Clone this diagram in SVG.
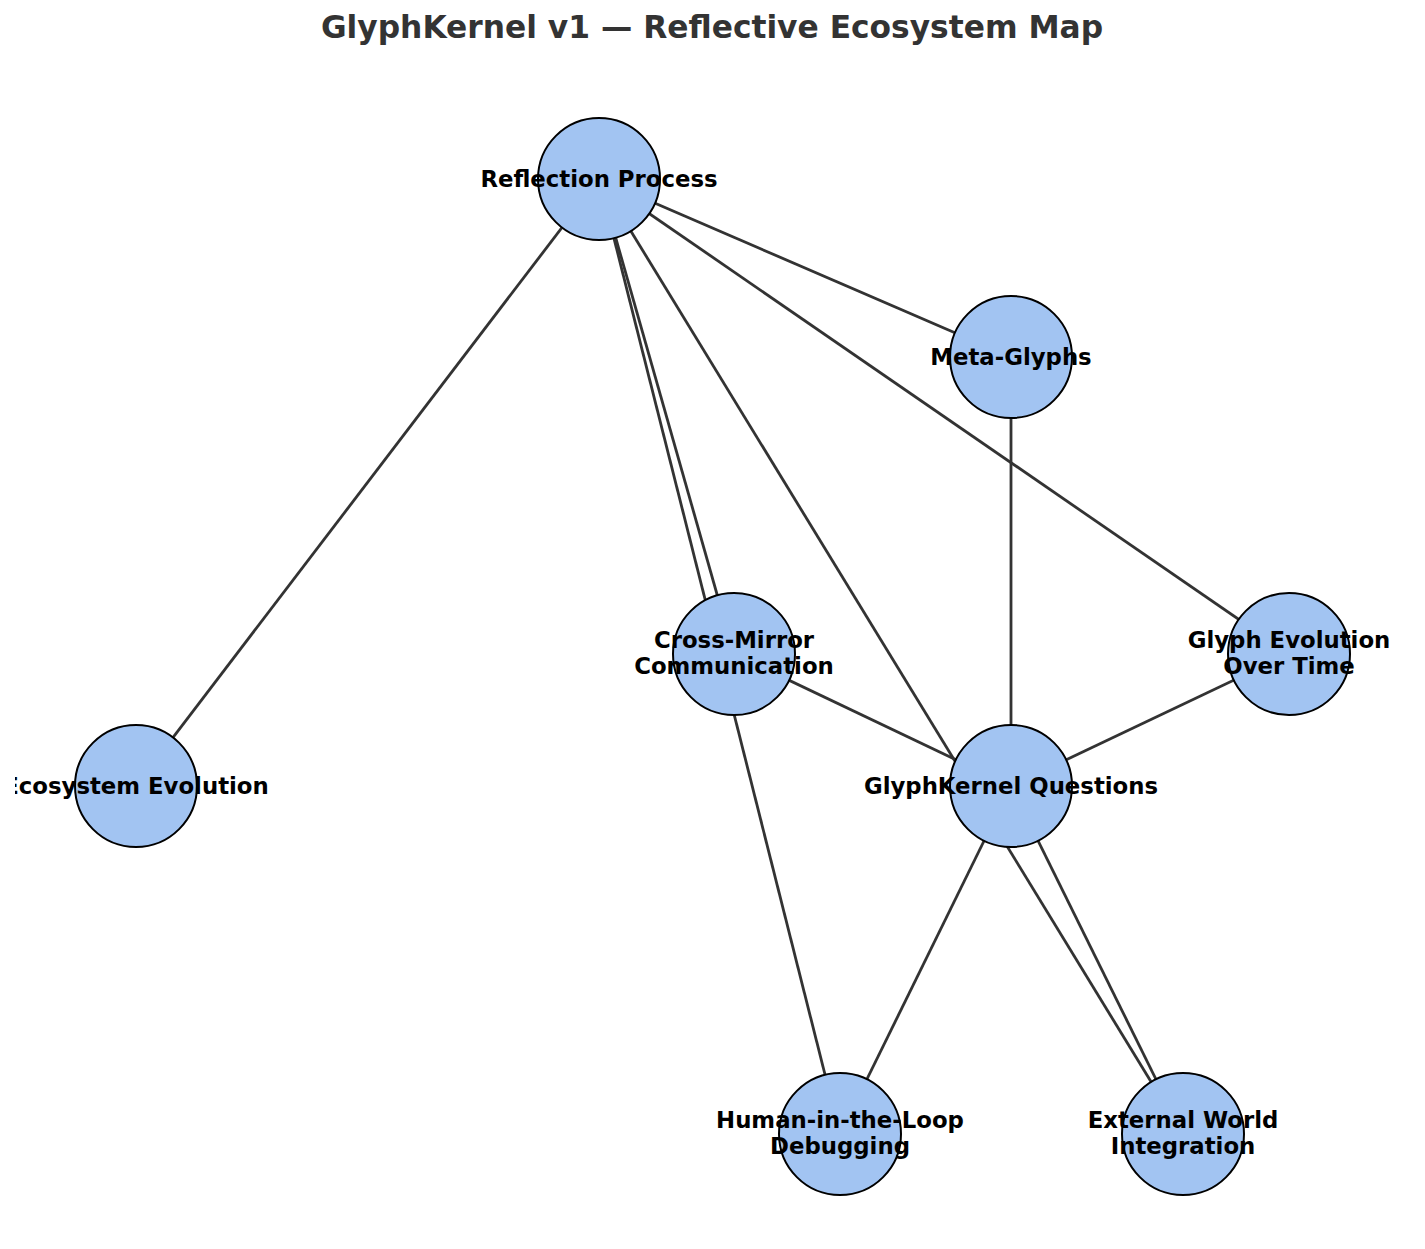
<svg xmlns="http://www.w3.org/2000/svg" width="1425" height="1249" viewBox="0 0 1425 1249">
<style>
.edge{stroke:#333333;stroke-width:2.8;fill:none}
.node circle{fill:#a2c4f2;stroke:#000;stroke-width:2}
.lbl{font-family:"DejaVu Sans",sans-serif;font-weight:bold;font-size:22.8px;fill:#000;text-anchor:middle}
.title{font-family:"DejaVu Sans",sans-serif;font-weight:bold;font-size:31.3px;fill:#333333;text-anchor:middle}
</style>
<defs>
<clipPath id="ax"><rect x="15" y="0" width="1410" height="1249"/></clipPath>
</defs>
<rect width="1425" height="1249" fill="#fff"/>
<text class="title" x="712" y="38">GlyphKernel v1 — Reflective Ecosystem Map</text>
<g id="edges">
<line class="edge" x1="599" y1="179" x2="136" y2="786"/>
<line class="edge" x1="599" y1="179" x2="840" y2="1134"/>
<line class="edge" x1="599" y1="179" x2="734" y2="654"/>
<line class="edge" x1="599" y1="179" x2="1183" y2="1134"/>
<line class="edge" x1="599" y1="179" x2="1011" y2="357"/>
<line class="edge" x1="599" y1="179" x2="1289" y2="654"/>
<line class="edge" x1="1011" y1="357" x2="1011" y2="786"/>
<line class="edge" x1="734" y1="654" x2="1011" y2="786"/>
<line class="edge" x1="1289" y1="654" x2="1011" y2="786"/>
<line class="edge" x1="1011" y1="786" x2="840" y2="1134"/>
<line class="edge" x1="1011" y1="786" x2="1183" y2="1134"/>
</g>
<g id="n-reflection" class="node"><circle cx="599" cy="179" r="61"/><text class="lbl" x="599" y="187">Reflection Process</text></g>
<g id="n-meta" class="node"><circle cx="1011" cy="357" r="61"/><text class="lbl" x="1011" y="365">Meta-Glyphs</text></g>
<g id="n-crossmirror" class="node"><circle cx="734" cy="654" r="61"/><text class="lbl" x="734" y="648">Cross-Mirror</text><text class="lbl" x="734" y="674">Communication</text></g>
<g id="n-glyphevo" class="node"><circle cx="1289" cy="654" r="61"/><text class="lbl" x="1289" y="648">Glyph Evolution</text><text class="lbl" x="1289" y="674">Over Time</text></g>
<g id="n-ecosystem" class="node" clip-path="url(#ax)"><circle cx="136" cy="786" r="61"/><text class="lbl" x="136" y="794">Ecosystem Evolution</text></g>
<g id="n-questions" class="node"><circle cx="1011" cy="786" r="61"/><text class="lbl" x="1011" y="794">GlyphKernel Questions</text></g>
<g id="n-human" class="node"><circle cx="840" cy="1134" r="61"/><text class="lbl" x="840" y="1128">Human-in-the-Loop</text><text class="lbl" x="840" y="1154">Debugging</text></g>
<g id="n-external" class="node"><circle cx="1183" cy="1134" r="61"/><text class="lbl" x="1183" y="1128">External World</text><text class="lbl" x="1183" y="1154">Integration</text></g>
</svg>
